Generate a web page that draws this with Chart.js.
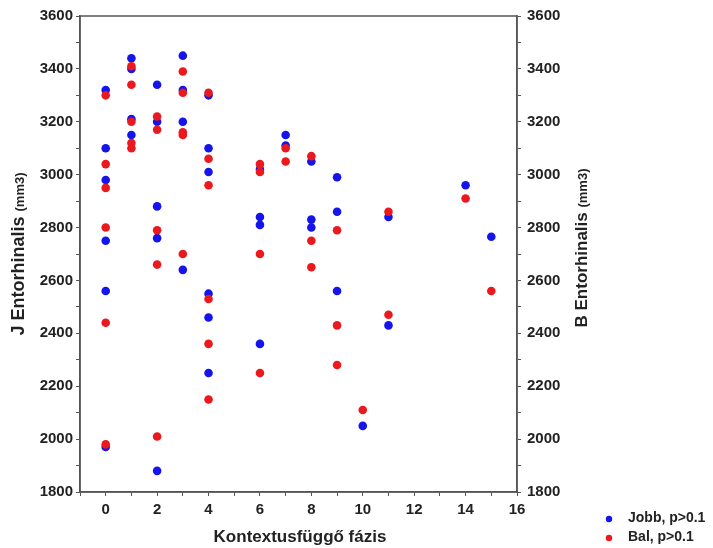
<!DOCTYPE html>
<html>
<head>
<meta charset="utf-8">
<script src="https://cdn.jsdelivr.net/npm/chart.js@4"></script>
<style>
  html, body { margin: 0; padding: 0; background: #fff; }
  #wrap { width: 713px; height: 548px; }
</style>
</head>
<body>
<div id="wrap"><canvas id="myChart" width="713" height="548"></canvas></div>
<script>
// Jobb (right side), p>0.1
let jobbX = [0, 0, 0, 0, 0, 0,
             1, 1, 1, 1,
             2, 2, 2, 2, 2,
             3, 3, 3, 3,
             4, 4, 4, 4, 4, 4,
             6, 6, 6, 6,
             7, 7,
             8, 8, 8,
             9, 9, 9,
             10,
             11, 11,
             14,
             15];
let jobbY = [3320, 3100, 2980, 2750, 2560, 1970,
             3440, 3400, 3210, 3150,
             3340, 3200, 2880, 2760, 1880,
             3450, 3320, 3200, 2640,
             3300, 3100, 3010, 2550, 2460, 2250,
             3020, 2840, 2810, 2360,
             3150, 3110,
             3050, 2830, 2800,
             2990, 2860, 2560,
             2050,
             2840, 2430,
             2960,
             2765];

// Bal (left side), p>0.1
let balX = [0, 0, 0, 0, 0, 0,
            1, 1, 1, 1, 1,
            2, 2, 2, 2, 2,
            3, 3, 3, 3, 3,
            4, 4, 4, 4, 4, 4,
            6, 6, 6, 6,
            7, 7,
            8, 8, 8,
            9, 9, 9,
            10,
            11, 11,
            14,
            15];
let balY = [3300, 3040, 2950, 2800, 2440, 1980,
            3410, 3340, 3200, 3120, 3100,
            3220, 3170, 2790, 2660, 2010,
            3390, 3310, 3160, 3150, 2700,
            3310, 3060, 2960, 2530, 2360, 2150,
            3040, 3010, 2700, 2250,
            3100, 3050,
            3070, 2750, 2650,
            2790, 2430, 2280,
            2110,
            2860, 2470,
            2910,
            2560];

let seriesLabels = ['Jobb, p>0.1', 'Bal, p>0.1'];
let xTitle = 'Kontextusfüggő fázis';
let yLeftTitle = 'J Entorhinalis';
let yRightTitle = 'B Entorhinalis';
let unitText = '(mm3)';

const blue = 'rgb(20, 20, 235)';
const red = 'rgb(235, 25, 30)';
const textColor = '#222';
const lineColor = '#555';
const fontFam = '"Liberation Sans", Arial, sans-serif';

toPoints = (xs, ys) => xs.map((x, i) => ({ x: x, y: ys[i] }));

// frame, axis titles and legend
const decorPlugin = {
    id: 'decor',
    afterDraw(chart) {
        const c = chart.ctx;
        const a = chart.chartArea;
        c.save();
        c.strokeStyle = lineColor;
        c.lineWidth = 1.5;
        c.strokeRect(a.left, a.top, a.right - a.left, a.bottom - a.top);

        c.fillStyle = textColor;
        // x title
        c.font = 'bold 17px ' + fontFam;
        c.textAlign = 'center';
        c.textBaseline = 'middle';
        c.fillText(xTitle, 300, 537);

        // rotated titles with a smaller unit part
        const drawVert = (cx, cy, main, size) => {
            c.save();
            c.translate(cx, cy);
            c.rotate(-Math.PI / 2);
            c.font = 'bold ' + size + 'px ' + fontFam;
            const w1 = c.measureText(main + ' ').width;
            c.font = 'bold 13px ' + fontFam;
            const w2 = c.measureText(unitText).width;
            let start = -(w1 + w2) / 2;
            c.textAlign = 'left';
            c.textBaseline = 'alphabetic';
            c.font = 'bold ' + size + 'px ' + fontFam;
            c.fillText(main + ' ', start, 6);
            c.font = 'bold 13px ' + fontFam;
            c.fillText(unitText, start + w1, 6);
            c.restore();
        };
        drawVert(18, 254, yLeftTitle, 18);
        drawVert(581, 248, yRightTitle, 17);

        // legend
        const colors = [blue, red];
        const ys = [518, 537];
        seriesLabels.forEach((lab, i) => {
            c.beginPath();
            c.fillStyle = colors[i];
            c.arc(609, ys[i] + 1, 3.2, 0, Math.PI * 2);
            c.fill();
            c.fillStyle = textColor;
            c.font = 'bold 14px ' + fontFam;
            c.textAlign = 'left';
            c.textBaseline = 'middle';
            c.fillText(lab, 628, ys[i]);
        });
        c.restore();
    }
};

let ctx = document.getElementById('myChart').getContext('2d');

let yTicks = (v) => (v % 200 === 0 ? String(v) : '');
let xTicks = (v) => (v >= 0 && v % 2 === 0 ? String(v) : '');

let myChart = new Chart(ctx, {
    type: 'scatter',
    data: {
        datasets: [{
            label: seriesLabels[0],
            data: toPoints(jobbX, jobbY),
            backgroundColor: blue,
            borderWidth: 0,
            pointRadius: 4.3,
            order: 1
        }, {
            label: seriesLabels[1],
            data: toPoints(balX, balY),
            backgroundColor: red,
            borderWidth: 0,
            pointRadius: 4.3,
            order: 0
        }]
    },
    options: {
        responsive: false,
        animation: false,
        layout: { padding: { top: 16, left: 0, right: 0, bottom: 0 } },
        plugins: {
            legend: { display: false },
            tooltip: { enabled: false }
        },
        scales: {
            x: {
                type: 'linear',
                min: -1,
                max: 16,
                afterFit: (s) => { s.height = 56; },
                grid: { drawOnChartArea: false, drawTicks: true, tickLength: 4, color: lineColor },
                border: { display: true, color: lineColor, width: 1.5 },
                ticks: {
                    stepSize: 1,
                    autoSkip: false,
                    maxRotation: 0,
                    padding: 5,
                    color: textColor,
                    font: { family: fontFam, size: 15, weight: 'bold' },
                    callback: xTicks
                }
            },
            y: {
                position: 'left',
                min: 1800,
                max: 3600,
                afterFit: (s) => { s.width = 80; },
                grid: { drawOnChartArea: false, drawTicks: true, tickLength: 4, color: lineColor },
                border: { display: true, color: lineColor, width: 1.5 },
                ticks: {
                    stepSize: 100,
                    autoSkip: false,
                    padding: 3,
                    color: textColor,
                    font: { family: fontFam, size: 15, weight: 'bold' },
                    callback: yTicks
                }
            },
            y2: {
                position: 'right',
                min: 1800,
                max: 3600,
                afterFit: (s) => { s.width = 196; },
                grid: { drawOnChartArea: false, drawTicks: true, tickLength: 4, color: lineColor },
                border: { display: true, color: lineColor, width: 1.5 },
                ticks: {
                    stepSize: 100,
                    autoSkip: false,
                    padding: 6,
                    color: textColor,
                    font: { family: fontFam, size: 15, weight: 'bold' },
                    callback: yTicks
                }
            }
        }
    },
    plugins: [decorPlugin]
});
</script>
</body>
</html>
